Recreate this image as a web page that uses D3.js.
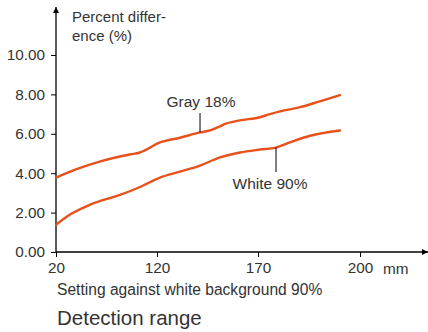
<!DOCTYPE html>
<html>
<head>
<meta charset="utf-8">
<script src="https://cdn.jsdelivr.net/npm/d3@7"></script>
<style>
  body { margin: 0; background: #fff; }
  text { font-family: "Liberation Sans", Arial, sans-serif; fill: #333; }
</style>
</head>
<body>
<div class="chart"></div>
<script>
// data (x in mm, y in percent)
const xTicks = [20, 120, 170, 200];
const yTicks = [0, 2, 4, 6, 8, 10];
const grayX = [20, 39, 64, 93, 103, 121.5, 131.4, 141.3, 146.2, 151.2, 153.7, 161, 170.6, 173.5, 176.5, 182.4, 188.2, 194.1];
const grayY = [3.78, 4.18, 4.6, 4.95, 5.05, 5.56, 5.8, 6.07, 6.17, 6.38, 6.5, 6.68, 6.84, 7.0, 7.14, 7.35, 7.65, 7.96];
const whiteX = [20, 33.9, 53.7, 83.4, 103.2, 121.5, 131.4, 141.3, 151.2, 161.1, 170.6, 175.3, 179.4, 185.3, 194.1];
const whiteY = [1.38, 1.9, 2.4, 2.9, 3.3, 3.78, 4.08, 4.39, 4.8, 5.05, 5.2, 5.3, 5.56, 5.9, 6.17];

const w = 428, h = 332;

const svg = d3.select(".chart").append("svg")
    .attr("width", w)
    .attr("height", h);

// x axis is not linear: each labelled step gets the same width
var xScale = d3.scaleLinear()
    .domain(xTicks)
    .range([56, 157, 258, 360]);

var yScale = d3.scaleLinear()
    .domain([0, 10])
    .range([252, 55]);

const defs = svg.append("defs");
defs.append("marker")
    .attr("id", "arrow")
    .attr("viewBox", "0 0 10 10")
    .attr("refX", 10).attr("refY", 5)
    .attr("markerWidth", 12).attr("markerHeight", 6)
    .attr("markerUnits", "userSpaceOnUse")
    .attr("orient", "auto")
    .append("path")
    .attr("d", "M0,0L10,5L0,10z")
    .attr("fill", "#000");

var xAxis = d3.axisBottom(xScale)
    .tickValues(xTicks)
    .tickSize(5)
    .tickPadding(5)
    .tickFormat(d3.format("d"));

var yAxis = d3.axisLeft(yScale)
    .tickValues(yTicks)
    .tickSize(5)
    .tickPadding(6)
    .tickFormat(d3.format(".2f"));

svg.append("g")
    .attr("transform", `translate(0, ${yScale(0)})`)
    .call(xAxis)
    .call(g => g.select(".domain").remove())
    .call(g => g.selectAll("text").attr("font-size", 15.3).attr("fill", "#333"))
    .call(g => g.selectAll(".tick line").attr("stroke", "#000"));

svg.append("g")
    .attr("transform", `translate(${xScale(20)}, 0)`)
    .call(yAxis)
    .call(g => g.select(".domain").remove())
    .call(g => g.selectAll("text").attr("font-size", 15.3).attr("fill", "#333"))
    .call(g => g.selectAll(".tick line").attr("stroke", "#000"));

// axis lines with arrow heads
svg.append("line")
    .attr("x1", xScale(20)).attr("y1", yScale(0))
    .attr("x2", 428).attr("y2", yScale(0))
    .attr("stroke", "#000").attr("stroke-width", 1.3)
    .attr("marker-end", "url(#arrow)");

svg.append("line")
    .attr("x1", xScale(20)).attr("y1", yScale(0))
    .attr("x2", xScale(20)).attr("y2", 7)
    .attr("stroke", "#000").attr("stroke-width", 1.3)
    .attr("marker-end", "url(#arrow)");

const line = d3.line()
    .curve(d3.curveMonotoneX)
    .x(d => xScale(d[0]))
    .y(d => yScale(d[1]));

[[grayX, grayY], [whiteX, whiteY]].forEach(([xs, ys]) => {
    svg.append("path")
        .datum(d3.zip(xs, ys))
        .attr("fill", "none")
        .attr("stroke", "#e8501c")
        .attr("stroke-width", 2.4)
        .attr("stroke-linecap", "round")
        .attr("d", line);
});

// annotations
svg.append("line")
    .attr("x1", xScale(141.3)).attr("x2", xScale(141.3))
    .attr("y1", 113).attr("y2", yScale(6.07))
    .attr("stroke", "#000").attr("stroke-width", 1);
svg.append("text")
    .attr("x", 201).attr("y", 107)
    .attr("text-anchor", "middle")
    .attr("font-size", 15.5)
    .text("Gray 18%");

svg.append("line")
    .attr("x1", xScale(175.3)).attr("x2", xScale(175.3))
    .attr("y1", yScale(5.3)).attr("y2", 172)
    .attr("stroke", "#000").attr("stroke-width", 1);
svg.append("text")
    .attr("x", 270).attr("y", 189)
    .attr("text-anchor", "middle")
    .attr("font-size", 15.5)
    .text("White 90%");

// titles
svg.append("text").attr("x", 72).attr("y", 22).attr("font-size", 15).text("Percent differ-");
svg.append("text").attr("x", 72).attr("y", 41).attr("font-size", 15).text("ence (%)");
svg.append("text").attr("x", 383).attr("y", 274).attr("font-size", 15.3).text("mm");
svg.append("text").attr("x", 57).attr("y", 295).attr("font-size", 15.6).text("Setting against white background 90%");
svg.append("text").attr("x", 57).attr("y", 325).attr("font-size", 20.5).text("Detection range");
</script>
</body>
</html>
